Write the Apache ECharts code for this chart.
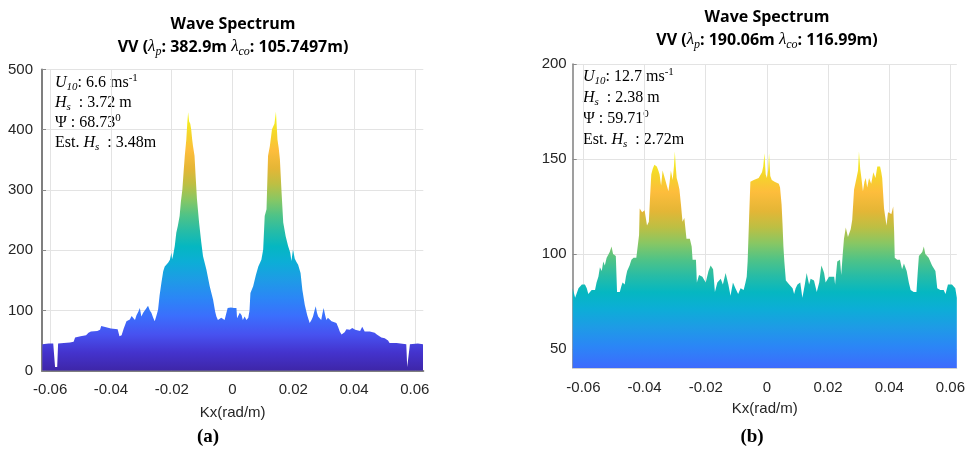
<!DOCTYPE html>
<html><head><meta charset="utf-8">
<script src="https://cdn.jsdelivr.net/npm/echarts@6/dist/echarts.min.js"></script>
<style>html,body{margin:0;padding:0;background:#fff}#c{width:968px;height:450px}</style>
</head><body><div id="c"></div>
<script>
// ---- data (a) ----
const leftKx = [-0.0626,-0.0605,-0.0590,-0.0586,-0.0584,-0.0577,-0.0574,-0.0555,-0.0535,-0.0523,-0.0518,-0.0500,-0.0482,-0.0474,-0.0466,-0.0445,-0.0436,-0.0432,-0.0428,-0.0400,-0.0378,-0.0372,-0.0365,-0.0358,-0.0349,-0.0343,-0.0338,-0.0332,-0.0327,-0.0321,-0.0316,-0.0310,-0.0305,-0.0300,-0.0294,-0.0289,-0.0283,-0.0278,-0.0272,-0.0267,-0.0261,-0.0256,-0.0250,-0.0245,-0.0240,-0.0234,-0.0228,-0.0223,-0.0217,-0.0212,-0.0206,-0.0201,-0.0199,-0.0196,-0.0190,-0.0185,-0.0180,-0.0174,-0.0170,-0.0165,-0.0161,-0.0157,-0.0152,-0.0149,-0.0146,-0.0143,-0.0139,-0.0136,-0.0133,-0.0130,-0.0125,-0.0121,-0.0117,-0.0110,-0.0103,-0.0097,-0.0086,-0.0075,-0.0064,-0.0057,-0.0053,-0.0048,-0.0043,-0.0037,-0.0032,-0.0026,-0.0021,-0.0016,-0.0005,0.0005,0.0013,0.0015,0.0020,0.0024,0.0030,0.0034,0.0040,0.0046,0.0052,0.0056,0.0059,0.0068,0.0077,0.0085,0.0095,0.0101,0.0106,0.0112,0.0117,0.0123,0.0130,0.0134,0.0138,0.0143,0.0148,0.0152,0.0156,0.0161,0.0167,0.0175,0.0183,0.0190,0.0194,0.0199,0.0205,0.0211,0.0216,0.0224,0.0230,0.0238,0.0246,0.0249,0.0254,0.0260,0.0265,0.0270,0.0274,0.0278,0.0282,0.0287,0.0292,0.0296,0.0300,0.0305,0.0309,0.0314,0.0320,0.0326,0.0331,0.0342,0.0348,0.0353,0.0359,0.0364,0.0369,0.0375,0.0386,0.0394,0.0399,0.0404,0.0408,0.0420,0.0427,0.0431,0.0435,0.0452,0.0468,0.0475,0.0479,0.0490,0.0501,0.0512,0.0517,0.0540,0.0572,0.0575,0.0581,0.0584,0.0610,0.0627];
const leftVal = [44,45,45,43,6,6,45,46,47,48,55,57,59,63,65,66,68,74,71,70,69,57,59,70,82,80,85,91,93,84,92,98,104,90,96,98,104,108,100,96,88,82,92,101,125,146,165,173,176,179,184,196,185,190,207,229,240,257,280,301,330,357,384,410,429,414,410,401,385,373,357,320,285,246,214,190,168,140,118,98,90,84,84,88,90,84,86,104,105,104,104,87,90,96,92,84,90,84,88,100,129,140,159,173,184,201,257,268,357,373,401,404,410,430,384,370,351,301,246,223,207,196,182,201,186,180,176,162,134,109,92,90,79,84,90,100,107,96,90,92,84,95,104,92,84,88,90,82,79,79,72,65,60,57,64,69,68,71,72,68,65,66,73,70,65,65,63,60,57,55,54,50,46,46,44,6,6,44,45,44];
// ---- data (b) ----
const rightKx = [-0.0635,-0.0632,-0.0627,-0.0616,-0.0605,-0.0595,-0.0589,-0.0584,-0.0573,-0.0562,-0.0557,-0.0551,-0.0546,-0.0540,-0.0535,-0.0530,-0.0524,-0.0519,-0.0514,-0.0508,-0.0503,-0.0494,-0.0490,-0.0481,-0.0476,-0.0472,-0.0465,-0.0461,-0.0457,-0.0449,-0.0443,-0.0436,-0.0427,-0.0422,-0.0418,-0.0416,-0.0408,-0.0400,-0.0392,-0.0386,-0.0382,-0.0378,-0.0373,-0.0368,-0.0360,-0.0355,-0.0351,-0.0346,-0.0341,-0.0336,-0.0330,-0.0322,-0.0318,-0.0314,-0.0308,-0.0304,-0.0301,-0.0298,-0.0295,-0.0290,-0.0286,-0.0281,-0.0276,-0.0270,-0.0263,-0.0252,-0.0246,-0.0243,-0.0232,-0.0229,-0.0222,-0.0211,-0.0200,-0.0191,-0.0184,-0.0176,-0.0170,-0.0162,-0.0151,-0.0144,-0.0135,-0.0126,-0.0119,-0.0111,-0.0103,-0.0094,-0.0086,-0.0076,-0.0070,-0.0066,-0.0063,-0.0058,-0.0054,-0.0043,-0.0027,-0.0016,-0.0012,-0.0008,-0.0004,0.0000,0.0004,0.0007,0.0011,0.0016,0.0025,0.0039,0.0043,0.0048,0.0051,0.0054,0.0057,0.0062,0.0073,0.0084,0.0089,0.0094,0.0100,0.0109,0.0116,0.0124,0.0130,0.0138,0.0143,0.0154,0.0163,0.0171,0.0178,0.0183,0.0187,0.0192,0.0203,0.0220,0.0223,0.0230,0.0239,0.0243,0.0248,0.0252,0.0258,0.0265,0.0274,0.0279,0.0285,0.0293,0.0298,0.0301,0.0305,0.0309,0.0314,0.0319,0.0323,0.0328,0.0334,0.0341,0.0348,0.0355,0.0361,0.0366,0.0370,0.0374,0.0377,0.0383,0.0391,0.0396,0.0407,0.0413,0.0416,0.0418,0.0426,0.0435,0.0442,0.0448,0.0457,0.0464,0.0470,0.0480,0.0489,0.0493,0.0497,0.0508,0.0513,0.0518,0.0529,0.0540,0.0551,0.0557,0.0567,0.0578,0.0584,0.0592,0.0605,0.0616,0.0621];
const rightVal = [82,82,77,82,84,84,82,79,81,81,85,88,93,91,96,94,98,97,101,104,100,99,80,80,83,85,84,88,91,94,97,98,98,99,110,124,122,123,115,117,130,142,145,147,146,144,142,136,144,141,140,133,138,144,139,146,154,146,140,137,134,126,117,119,108,108,104,97,97,85,89,88,85,91,94,92,80,85,87,84,90,84,78,85,82,79,82,81,85,88,96,120,138,139,140,143,146,153,142,140,144,153,141,139,138,137,135,126,116,104,96,86,84,82,79,82,84,85,77,84,90,84,87,86,80,85,94,92,90,85,88,88,84,96,97,89,100,108,114,109,113,118,134,140,144,154,145,140,133,138,140,135,140,137,143,140,146,147,146,143,140,124,115,122,121,125,112,98,97,97,92,95,91,85,81,80,80,90,99,101,104,100,98,94,91,82,81,81,79,84,84,82,77];
// ---- tick labels ----
const xTicks = [-0.06,-0.04,-0.02,0,0.02,0.04,0.06];
const leftYTicks = [0,100,200,300,400,500];
const rightYTicks = [50,100,150,200];

// parula-like colormap
const parula = [[0.00,'#3e26a8'],[0.07,'#4433cd'],[0.14,'#4752f0'],[0.21,'#3b6efd'],[0.28,'#2b86f6'],[0.35,'#1e9be6'],[0.42,'#0caed6'],[0.48,'#05b7c1'],[0.54,'#27bca6'],[0.60,'#4fc387'],[0.66,'#87c764'],[0.72,'#bdbf43'],[0.78,'#e4b636'],[0.85,'#fdbd3c'],[0.91,'#f5d42b'],[0.96,'#f4e923'],[1.00,'#f9fb0e']];
function hex2rgb(h){return [parseInt(h.slice(1,3),16),parseInt(h.slice(3,5),16),parseInt(h.slice(5,7),16)];}
function cmap(t){
  for(let i=1;i<parula.length;i++){
    if(t<=parula[i][0]){
      const a=parula[i-1],b=parula[i];const f=(t-a[0])/(b[0]-a[0]);
      const ca=hex2rgb(a[1]),cb=hex2rgb(b[1]);
      return 'rgb('+ca.map((v,k)=>Math.round(v+(cb[k]-v)*f)).join(',')+')';
    }
  }
  return parula[parula.length-1][1];
}
function gradient(t0){
  const stops=[{offset:0,color:cmap(t0)}];
  parula.forEach(p=>{if(p[0]>t0)stops.push({offset:(p[0]-t0)/(1-t0),color:p[1]});});
  return new echarts.graphic.LinearGradient(0,1,0,0,stops);
}
const zip=(a,b)=>a.map((v,i)=>[v,b[i]]);

const chart = echarts.init(document.getElementById('c'), null, {renderer:'canvas'});
const labelFont = {fontFamily:'Liberation Sans, Arial, sans-serif', fontSize:15, color:'#262626'};
function xAxisOpt(idx,min,max,gap){
  return {type:'value', gridIndex:idx, min:min, max:max,
    name:'Kx(rad/m)', nameLocation:'middle', nameGap:gap,
    nameTextStyle:{fontFamily:'Liberation Sans, Arial, sans-serif', fontSize:15, color:'#262626'},
    axisLine:{show:true, onZero:false, lineStyle:{color: idx===0?'#7f7f7f':'#d0d0d0', width: idx===0?2:1}},
    axisTick:{show:true, inside:true, length:4, customValues:xTicks, lineStyle:{color:'#8a8a8a'}},
    axisLabel:Object.assign({margin:12, customValues:xTicks, formatter:v=>String(v)}, labelFont),
    splitLine:{show:true, lineStyle:{color:'#e3e3e3', width:1}}
  };
}
function yAxisOpt(idx,min,max,ticks,margin){
  return {type:'value', gridIndex:idx, min:min, max:max,
    axisLine:{show:true, onZero:false, lineStyle:{color:'#7f7f7f', width: idx===0?2:1.5}},
    axisTick:{show:true, inside:true, length:4, customValues:ticks, lineStyle:{color:'#8a8a8a'}},
    axisLabel:Object.assign({margin:margin, customValues:ticks}, labelFont),
    splitLine:{show:true, lineStyle:{color:'#e3e3e3', width:1}}
  };
}
const serif='Liberation Serif, Times New Roman, serif';
const annRich={
  n:{fontFamily:serif,fontSize:16,lineHeight:20,fill:'#000',verticalAlign:'middle'},
  i:{fontFamily:serif,fontSize:16,fontStyle:'italic',lineHeight:20,fill:'#000',verticalAlign:'middle'},
  sub:{fontFamily:serif,fontSize:11,fontStyle:'italic',lineHeight:12,fill:'#000',verticalAlign:'bottom'},
  sup:{fontFamily:serif,fontSize:11,lineHeight:12,fill:'#000',verticalAlign:'top'}
};
const titleRich={
  b:{fontFamily:'Open Sans, sans-serif',fontSize:16,fontWeight:'bold',lineHeight:22,fill:'#000',verticalAlign:'middle'},
  l:{fontFamily:serif,fontSize:17,fontStyle:'italic',lineHeight:22,fill:'#000',verticalAlign:'middle'},
  s:{fontFamily:serif,fontSize:12,fontStyle:'italic',lineHeight:13,fill:'#000',verticalAlign:'bottom'}
};
function txt(x,y,text,rich,align){
  return {type:'text', x:x, y:y, style:{text:text, rich:rich, align:align||'left', verticalAlign:'middle'}};
}
function annLines(x,y0,dy,u,hs,psi,est){
  return [
    txt(x,y0,'{i|U}{sub|10}{n|: '+u+' ms}{sup|-1}',annRich),
    txt(x,y0+dy,'{i|H}{sub|s}{n|  : '+hs+' m}',annRich),
    txt(x,y0+2*dy,'{n|Ψ : '+psi+'}{sup|0}',annRich),
    txt(x,y0+3*dy,'{n|Est. }{i|H}{sub|s}{n|  : '+est+'m}',annRich)
  ];
}
const option = {
  animation:false,
  backgroundColor:'#fff',
  grid:[
    {left:42, top:69.5, right:544.7, bottom:79.3, containLabel:false},
    {left:572.7, top:64, right:10, bottom:82, containLabel:false}
  ],
  xAxis:[xAxisOpt(0,-0.0627,0.0628,35), xAxisOpt(1,-0.0635,0.0621,33)],
  yAxis:[yAxisOpt(0,0,500,leftYTicks,9), yAxisOpt(1,40,200,rightYTicks,6)],
  series:[
    {type:'line', xAxisIndex:0, yAxisIndex:0, data:zip(leftKx,leftVal), showSymbol:false, symbol:'none',
     lineStyle:{width:0}, areaStyle:{origin:'start', color:gradient(0), opacity:1}, z:1},
    {type:'line', xAxisIndex:1, yAxisIndex:1, data:zip(rightKx,rightVal), showSymbol:false, symbol:'none',
     lineStyle:{width:0}, areaStyle:{origin:'start', color:gradient(0.2), opacity:1}, z:1}
  ],
  graphic:[
    txt(233,24,'{b|Wave Spectrum}',titleRich,'center'),
    txt(233,47,'{b|VV (}{l|λ}{s|p}{b|: 382.9m }{l|λ}{s|co}{b|: 105.7497m)}',titleRich,'center'),
    txt(767,17,'{b|Wave Spectrum}',titleRich,'center'),
    txt(767,40,'{b|VV (}{l|λ}{s|p}{b|: 190.06m }{l|λ}{s|co}{b|: 116.99m)}',titleRich,'center'),
    ...annLines(55,83,20,'6.6','3.72','68.73','3.48'),
    ...annLines(583,77,21,'12.7','2.38','59.71','2.72'),
    {type:'text', x:208, y:437, style:{text:'(a)', font:'bold 19px Liberation Serif, serif', fill:'#000', align:'center', verticalAlign:'middle'}},
    {type:'text', x:752, y:437, style:{text:'(b)', font:'bold 19px Liberation Serif, serif', fill:'#000', align:'center', verticalAlign:'middle'}}
  ]
};
chart.setOption(option);
</script></body></html>
